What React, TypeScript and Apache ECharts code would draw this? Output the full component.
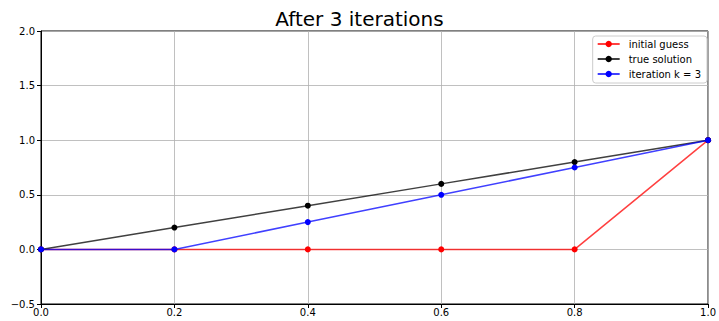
import React, { useEffect, useRef } from "react";
import * as echarts from "echarts";

const xValues = [0, 0.2, 0.4, 0.6, 0.8, 1.0];
const initialGuess = [0, 0, 0, 0, 0, 1];
const trueSolution = [0, 0.2, 0.4, 0.6, 0.8, 1.0];
const iteration3 = [0, 0, 0.25, 0.5, 0.75, 1.0];
const seriesNames = ["initial guess", "true solution", "iteration k = 3"];
const seriesColors = ["rgba(255,0,0,0.75)", "rgba(0,0,0,0.75)", "rgba(0,0,255,0.75)"];
const markerColors = ["#ff0000", "#000000", "#0000ff"];
const titleText = "After 3 iterations";

const FONT = "DejaVu Sans";

export default function App() {
  const ref = useRef<HTMLDivElement>(null);
  useEffect(() => {
    if (!ref.current) return;
    const chart = echarts.init(ref.current, null, { renderer: "svg" });
    const datasets = [initialGuess, trueSolution, iteration3];
    chart.setOption({
      animation: false,
      backgroundColor: "#fff",
      title: {
        text: titleText,
        left: "center",
        top: 4,
        textStyle: { fontFamily: FONT, fontSize: 20, fontWeight: "normal", color: "#000" },
      },
      grid: {
        left: 41,
        right: 7,
        top: 31,
        bottom: 17,
        show: true,
        borderColor: "#000",
        borderWidth: 1,
        containLabel: false,
      },
      legend: {
        orient: "vertical",
        right: 12,
        top: 36,
        itemWidth: 22,
        itemHeight: 8,
        itemGap: 5,
        padding: [3, 6, 4, 4],
        backgroundColor: "rgba(255,255,255,0.8)",
        borderColor: "#ccc",
        borderWidth: 1,
        borderRadius: 3,
        textStyle: { fontFamily: FONT, fontSize: 10, color: "#000", padding: [0, 0, 0, 4] },
        data: seriesNames,
      },
      xAxis: {
        type: "value",
        min: 0,
        max: 1,
        interval: 0.2,
        axisLine: { show: true, onZero: false, lineStyle: { color: "#000", width: 1 } },
        axisTick: { show: true, length: 4, lineStyle: { color: "#000" } },
        axisLabel: {
          fontFamily: FONT,
          fontSize: 10,
          color: "#000",
          margin: 3,
          formatter: (v: number) => v.toFixed(1),
        },
        splitLine: { show: true, lineStyle: { color: "#b0b0b0", width: 0.8 } },
      },
      yAxis: {
        type: "value",
        min: -0.5,
        max: 2.0,
        interval: 0.5,
        axisLine: { show: true, onZero: false, lineStyle: { color: "#000", width: 1 } },
        axisTick: { show: true, length: 4, lineStyle: { color: "#000" } },
        axisLabel: {
          fontFamily: FONT,
          fontSize: 10,
          color: "#000",
          margin: 6,
          formatter: (v: number) => (v < 0 ? "\u2212" + Math.abs(v).toFixed(1) : v.toFixed(1)),
        },
        splitLine: { show: true, lineStyle: { color: "#b0b0b0", width: 0.8 } },
      },
      series: datasets.map((d, i) => ({
        name: seriesNames[i],
        type: "line",
        data: xValues.map((x, j) => [x, d[j]]),
        symbol: "circle",
        symbolSize: 6,
        showSymbol: true,
        lineStyle: { color: seriesColors[i], width: 1.5 },
        itemStyle: { color: markerColors[i], opacity: 1 },
        z: 2 + i,
      })),
    });
    return () => chart.dispose();
  }, []);
  return <div ref={ref} style={{ width: 719, height: 321, position: "absolute", left: 0, top: 0 }} />;
}
